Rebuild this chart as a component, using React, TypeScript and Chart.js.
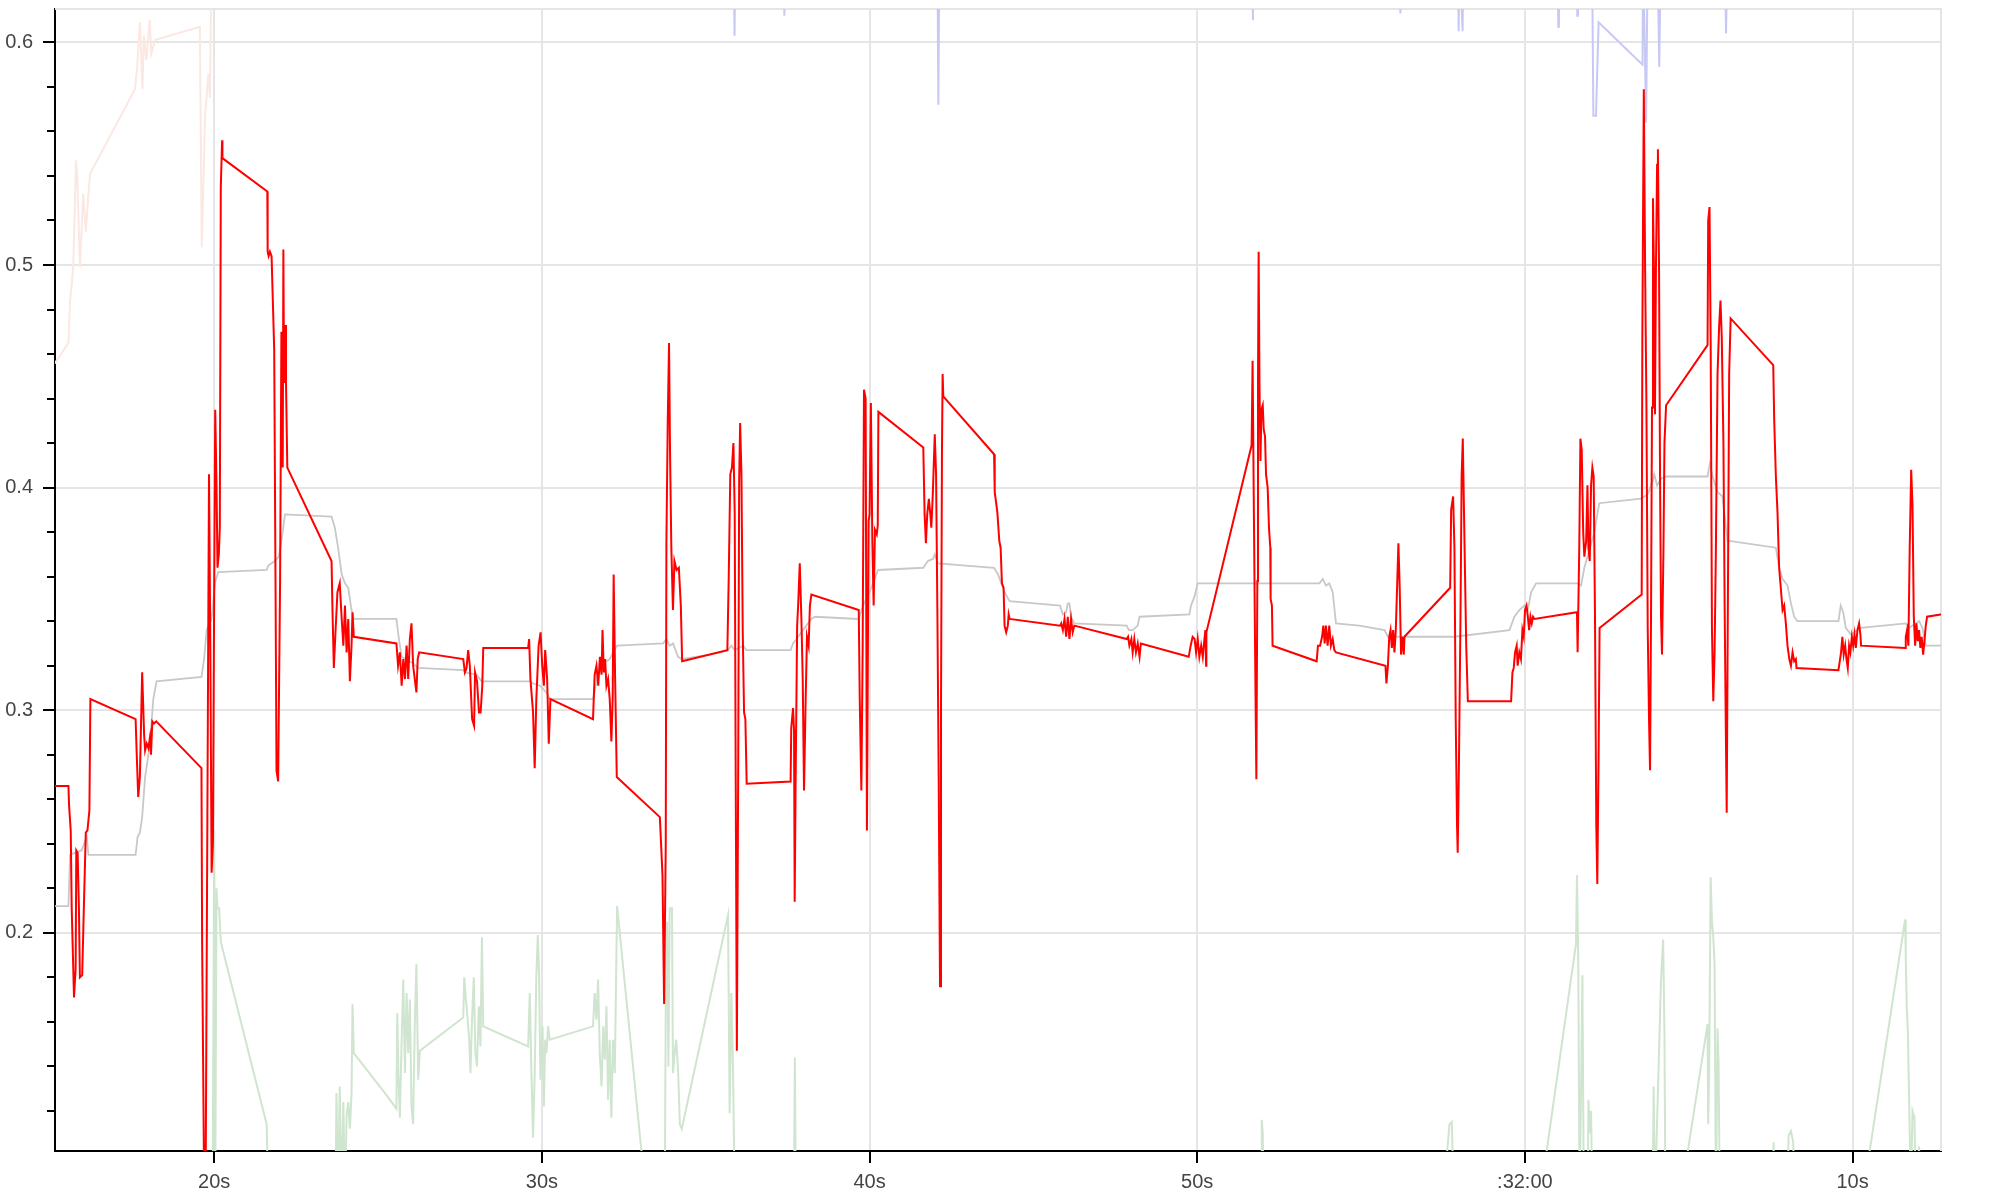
import React, { useEffect, useRef } from 'react';
import { Chart, registerables } from 'chart.js';

Chart.register(...registerables);

// x values are seconds after 10:31:00 (minute offset kept in baseMinute)
const baseMinute = 31;
const xMin = 15.14;
const xMax = 72.7;
const yMin = 0.102;
const yMax = 0.615;
const xTickValues = [20, 30, 40, 50, 60, 70];
const xTickLabels = ['20s', '30s', '40s', '50s', ':' + (baseMinute + 1) + ':00', '10s'];
const yTickValues = [0.2, 0.3, 0.4, 0.5, 0.6];
const yTickLabels = ['0.2', '0.3', '0.4', '0.5', '0.6'];

// [seconds, value]
const red: [number, number][] = [
  [15.0, 0.266], [15.55, 0.266], [15.57, 0.257], [15.62, 0.246], [15.65, 0.211], [15.72, 0.171], [15.77, 0.184], [15.79, 0.237], [15.83, 0.236], [15.87, 0.211], [15.9, 0.18], [15.97, 0.181], [16.02, 0.211], [16.08, 0.245], [16.13, 0.246], [16.19, 0.255], [16.22, 0.305],
  [17.6, 0.296], [17.63, 0.282], [17.68, 0.261], [17.73, 0.27], [17.8, 0.317], [17.86, 0.289], [17.89, 0.282], [17.94, 0.285], [17.99, 0.283], [18.04, 0.288], [18.07, 0.28], [18.11, 0.295], [18.16, 0.294], [18.23, 0.295],
  [19.61, 0.274], [19.63, 0.196], [19.69, 0.09], [19.74, 0.095], [19.79, 0.25], [19.84, 0.406], [19.88, 0.329], [19.92, 0.227], [19.96, 0.24], [20.0, 0.358], [20.03, 0.435], [20.07, 0.4], [20.1, 0.364], [20.14, 0.37], [20.17, 0.382], [20.2, 0.535], [20.24, 0.556], [20.25, 0.548],
  [21.62, 0.533], [21.63, 0.506], [21.66, 0.504], [21.7, 0.506], [21.75, 0.504], [21.83, 0.462], [21.87, 0.358], [21.9, 0.273], [21.95, 0.268], [22.01, 0.358], [22.05, 0.47], [22.09, 0.409], [22.11, 0.507], [22.13, 0.447], [22.16, 0.473], [22.19, 0.447], [22.23, 0.409],
  [23.58, 0.367], [23.61, 0.344], [23.65, 0.319], [23.7, 0.335], [23.76, 0.353], [23.83, 0.357], [23.89, 0.341], [23.94, 0.329], [23.99, 0.347], [24.04, 0.326], [24.09, 0.341], [24.14, 0.313], [24.19, 0.329], [24.22, 0.344], [24.26, 0.333],
  [25.56, 0.33], [25.61, 0.32], [25.665, 0.326], [25.72, 0.311], [25.77, 0.323], [25.82, 0.314], [25.87, 0.329], [25.92, 0.314], [25.97, 0.332], [26.02, 0.339], [26.07, 0.32], [26.12, 0.314], [26.17, 0.308], [26.21, 0.323], [26.255, 0.326],
  [27.6, 0.323], [27.65, 0.317], [27.7, 0.319], [27.75, 0.327], [27.8, 0.32], [27.87, 0.296], [27.93, 0.293], [27.96, 0.317], [28.02, 0.313], [28.08, 0.299], [28.13, 0.299], [28.18, 0.311], [28.21, 0.328],
  [29.58, 0.328], [29.61, 0.332], [29.65, 0.314], [29.73, 0.299], [29.78, 0.274], [29.83, 0.305], [29.9, 0.329], [29.96, 0.335], [30.01, 0.32], [30.06, 0.311], [30.1, 0.327], [30.16, 0.314], [30.21, 0.285], [30.26, 0.305],
  [31.56, 0.296], [31.61, 0.316], [31.665, 0.32], [31.72, 0.311], [31.77, 0.324], [31.82, 0.316], [31.85, 0.336], [31.89, 0.317], [31.93, 0.323], [31.97, 0.311], [32.02, 0.314], [32.07, 0.305], [32.12, 0.286], [32.16, 0.305], [32.19, 0.361], [32.235, 0.314], [32.285, 0.27],
  [33.6, 0.252], [33.68, 0.226], [33.73, 0.168], [33.78, 0.24], [33.8, 0.376], [33.84, 0.429], [33.88, 0.465], [33.91, 0.417], [33.95, 0.373], [34.0, 0.345], [34.045, 0.367], [34.11, 0.363], [34.18, 0.364], [34.24, 0.347], [34.28, 0.322],
  [35.66, 0.327], [35.7, 0.358], [35.75, 0.406], [35.8, 0.409], [35.845, 0.42], [35.885, 0.388], [35.915, 0.27], [35.95, 0.147], [35.99, 0.27], [36.02, 0.403], [36.05, 0.429], [36.09, 0.406], [36.13, 0.335], [36.17, 0.299], [36.21, 0.296], [36.25, 0.267],
  [37.59, 0.268], [37.61, 0.292], [37.665, 0.301], [37.695, 0.291], [37.715, 0.214], [37.745, 0.27], [37.79, 0.338], [37.82, 0.347], [37.87, 0.366], [37.92, 0.341], [37.96, 0.314], [38.0, 0.264], [38.05, 0.305], [38.09, 0.333], [38.14, 0.329], [38.18, 0.347], [38.225, 0.352],
  [39.67, 0.345], [39.7, 0.305], [39.75, 0.264], [39.79, 0.329], [39.83, 0.444], [39.88, 0.44], [39.92, 0.246], [39.97, 0.385], [40.0, 0.388], [40.04, 0.438], [40.085, 0.376], [40.125, 0.347], [40.165, 0.381], [40.22, 0.379], [40.25, 0.383], [40.27, 0.434],
  [41.64, 0.418], [41.68, 0.388], [41.72, 0.375], [41.76, 0.388], [41.81, 0.395], [41.855, 0.388], [41.885, 0.382], [41.93, 0.397], [41.99, 0.424], [42.03, 0.406], [42.07, 0.344], [42.11, 0.27], [42.15, 0.176], [42.18, 0.299], [42.21, 0.417], [42.23, 0.451], [42.25, 0.441],
  [43.8, 0.415], [43.82, 0.398], [43.9, 0.389], [43.96, 0.376], [44.0, 0.373], [44.04, 0.357], [44.09, 0.355], [44.12, 0.338], [44.17, 0.335], [44.22, 0.338], [44.245, 0.343], [44.275, 0.341],
  [45.815, 0.338], [45.85, 0.339], [45.9, 0.336], [45.95, 0.341], [46.0, 0.333], [46.05, 0.342], [46.1, 0.332], [46.15, 0.341], [46.2, 0.335], [46.25, 0.338],
  [47.85, 0.332], [47.89, 0.333], [47.93, 0.329], [47.99, 0.332], [48.03, 0.326], [48.08, 0.332], [48.13, 0.326], [48.185, 0.33], [48.24, 0.324], [48.28, 0.33],
  [49.74, 0.324], [49.8, 0.329], [49.86, 0.333], [49.92, 0.332], [49.965, 0.326], [50.015, 0.332], [50.065, 0.324], [50.12, 0.329], [50.17, 0.324], [50.22, 0.332], [50.25, 0.336], [50.27, 0.32], [50.28, 0.335],
  [51.66, 0.419], [51.69, 0.457], [51.73, 0.388], [51.765, 0.329], [51.805, 0.269], [51.835, 0.358], [51.855, 0.447], [51.875, 0.506], [51.9, 0.447], [51.93, 0.412], [51.96, 0.435], [52.0, 0.437], [52.03, 0.426], [52.07, 0.423], [52.1, 0.406], [52.15, 0.4], [52.19, 0.382], [52.23, 0.373], [52.24, 0.35], [52.28, 0.347], [52.3, 0.329],
  [53.645, 0.322], [53.685, 0.329], [53.75, 0.329], [53.81, 0.333], [53.85, 0.338], [53.89, 0.33], [53.93, 0.338], [53.98, 0.329], [54.03, 0.338], [54.08, 0.329], [54.135, 0.332], [54.185, 0.327], [54.235, 0.326],
  [55.745, 0.32], [55.775, 0.312], [55.82, 0.32], [55.86, 0.333], [55.9, 0.336], [55.94, 0.328], [55.98, 0.336], [56.02, 0.326], [56.06, 0.336], [56.1, 0.355], [56.14, 0.375], [56.18, 0.355], [56.22, 0.325], [56.26, 0.333], [56.305, 0.325], [56.325, 0.333],
  [57.72, 0.355], [57.75, 0.39], [57.81, 0.396], [57.85, 0.373], [57.89, 0.295], [57.93, 0.248], [57.95, 0.236], [57.99, 0.279], [58.035, 0.342], [58.07, 0.405], [58.105, 0.422], [58.16, 0.373], [58.21, 0.329], [58.26, 0.304],
  [59.58, 0.304], [59.62, 0.317], [59.66, 0.319], [59.7, 0.326], [59.75, 0.329], [59.78, 0.32], [59.83, 0.326], [59.88, 0.323], [59.925, 0.336], [59.965, 0.333], [60.005, 0.345], [60.05, 0.347], [60.09, 0.342], [60.13, 0.336], [60.17, 0.342], [60.21, 0.339], [60.25, 0.342], [60.29, 0.341],
  [61.59, 0.344], [61.61, 0.326], [61.66, 0.373], [61.695, 0.422], [61.735, 0.417], [61.78, 0.38], [61.815, 0.369], [61.87, 0.376], [61.91, 0.401], [61.94, 0.373], [61.98, 0.367], [62.02, 0.401], [62.06, 0.409], [62.1, 0.405], [62.14, 0.342], [62.18, 0.248], [62.21, 0.222], [62.25, 0.279], [62.28, 0.337],
  [63.565, 0.352], [63.585, 0.467], [63.63, 0.579], [63.67, 0.498], [63.71, 0.436], [63.75, 0.336], [63.79, 0.295], [63.82, 0.273], [63.85, 0.342], [63.88, 0.436], [63.91, 0.53], [63.94, 0.498], [63.97, 0.433], [64.0, 0.498], [64.035, 0.545], [64.06, 0.552], [64.095, 0.498], [64.125, 0.405], [64.155, 0.342], [64.185, 0.325], [64.23, 0.373], [64.26, 0.42], [64.31, 0.437],
  [65.575, 0.464], [65.595, 0.52], [65.635, 0.526], [65.67, 0.467], [65.71, 0.336], [65.75, 0.304], [65.79, 0.326], [65.83, 0.373], [65.88, 0.451], [65.93, 0.473], [65.97, 0.484], [66.01, 0.467], [66.06, 0.42], [66.1, 0.342], [66.13, 0.295], [66.16, 0.254], [66.205, 0.373], [66.235, 0.451], [66.28, 0.476],
  [67.58, 0.455], [67.61, 0.43], [67.66, 0.405], [67.71, 0.389], [67.76, 0.364], [67.81, 0.355], [67.865, 0.345], [67.915, 0.347], [67.965, 0.339], [68.015, 0.329], [68.07, 0.323], [68.12, 0.32], [68.17, 0.326], [68.22, 0.322], [68.27, 0.323], [68.29, 0.319],
  [69.57, 0.318], [69.61, 0.322], [69.65, 0.326], [69.69, 0.333], [69.73, 0.325], [69.775, 0.329], [69.815, 0.323], [69.855, 0.319], [69.895, 0.329], [69.935, 0.326], [69.98, 0.333], [70.02, 0.329], [70.06, 0.334], [70.1, 0.328], [70.15, 0.336], [70.2, 0.339], [70.24, 0.334], [70.26, 0.329],
  [71.605, 0.328], [71.625, 0.333], [71.665, 0.336], [71.705, 0.329], [71.745, 0.373], [71.79, 0.408], [71.83, 0.392], [71.87, 0.342], [71.91, 0.329], [71.95, 0.339], [71.99, 0.331], [72.03, 0.336], [72.07, 0.328], [72.11, 0.333], [72.155, 0.325], [72.195, 0.331], [72.235, 0.338], [72.275, 0.342], [72.69, 0.343], [72.9, 0.343],
];

const gray: [number, number][] = [
  [15.0, 0.212], [15.55, 0.212], [15.6, 0.235], [15.75, 0.236], [15.95, 0.237], [16.11, 0.243], [16.16, 0.235], [17.6, 0.235], [17.66, 0.243], [17.73, 0.245], [17.8, 0.252], [17.89, 0.27], [18.04, 0.285], [18.14, 0.305], [18.24, 0.313],
  [19.61, 0.315], [19.69, 0.323], [19.77, 0.336], [19.92, 0.341], [20.02, 0.357], [20.12, 0.362], [21.6, 0.363], [21.65, 0.365], [21.85, 0.367], [21.97, 0.369], [22.05, 0.376], [22.16, 0.388],
  [23.58, 0.387], [23.68, 0.382], [23.78, 0.373], [23.89, 0.361], [23.99, 0.357], [24.09, 0.355], [24.19, 0.345], [24.26, 0.341],
  [25.56, 0.341], [25.635, 0.332], [25.72, 0.324], [26.07, 0.321], [26.225, 0.319], [27.6, 0.318], [27.65, 0.317], [28.005, 0.316], [28.16, 0.313],
  [29.63, 0.313], [29.73, 0.312], [29.94, 0.311], [30.14, 0.308], [30.24, 0.305], [31.56, 0.305], [31.77, 0.32], [32.07, 0.323], [32.17, 0.326], [32.295, 0.329],
  [33.7, 0.33], [33.8, 0.332], [33.9, 0.329], [34.0, 0.33], [34.155, 0.324], [34.26, 0.323], [35.12, 0.325], [35.68, 0.327], [35.78, 0.329], [35.885, 0.327], [36.14, 0.329], [36.24, 0.327],
  [37.59, 0.327], [37.665, 0.33], [37.77, 0.332], [37.97, 0.336], [38.07, 0.338], [38.225, 0.341], [38.33, 0.342], [39.67, 0.341], [39.8, 0.347], [40.0, 0.353], [40.105, 0.357], [40.26, 0.363],
  [41.64, 0.364], [41.78, 0.367], [41.94, 0.368], [41.99, 0.37], [42.09, 0.366], [43.8, 0.364], [43.92, 0.361], [44.02, 0.357], [44.12, 0.353], [44.275, 0.349], [45.04, 0.348],
  [45.815, 0.347], [45.9, 0.343], [46.0, 0.344], [46.05, 0.348], [46.1, 0.348], [46.15, 0.342], [46.25, 0.339], [47.85, 0.338], [47.91, 0.336], [48.03, 0.336], [48.185, 0.338], [48.24, 0.342],
  [49.76, 0.343], [49.81, 0.347], [49.915, 0.351], [50.015, 0.357], [52.15, 0.357], [53.73, 0.357], [53.83, 0.359], [53.93, 0.356], [54.03, 0.357], [54.135, 0.353], [54.235, 0.339], [54.95, 0.338],
  [55.715, 0.336], [55.82, 0.333], [57.85, 0.333], [59.53, 0.336], [59.68, 0.342], [59.83, 0.345], [59.985, 0.347], [60.09, 0.345], [60.19, 0.353], [60.34, 0.357],
  [61.61, 0.357], [61.715, 0.356], [61.815, 0.364], [61.97, 0.372], [62.12, 0.38], [62.27, 0.393], [63.545, 0.395], [63.75, 0.397], [63.9, 0.403], [63.95, 0.406], [64.035, 0.401], [64.155, 0.404], [64.31, 0.405],
  [65.575, 0.405], [65.65, 0.411], [65.73, 0.405], [65.88, 0.398], [66.03, 0.396], [66.185, 0.376], [66.285, 0.376], [67.66, 0.373], [67.76, 0.364], [67.865, 0.359], [68.015, 0.356], [68.12, 0.348], [68.22, 0.342], [68.32, 0.34],
  [69.57, 0.34], [69.64, 0.347], [69.715, 0.344], [69.795, 0.337], [69.95, 0.334], [70.25, 0.337], [71.625, 0.339], [71.73, 0.337], [71.93, 0.339], [72.03, 0.34], [72.135, 0.337], [72.235, 0.329], [72.69, 0.329], [72.9, 0.329],
];

const green: [number, number][] = [
  [15.0, 0.08], [19.95, 0.08], [20.0, 0.246], [20.03, 0.08], [20.07, 0.22], [20.1, 0.211], [20.15, 0.211], [20.2, 0.196], [21.6, 0.114], [21.65, 0.08],
  [23.7, 0.08], [23.73, 0.128], [23.78, 0.08], [23.83, 0.131], [23.89, 0.08], [23.94, 0.124], [23.99, 0.08], [24.04, 0.118], [24.09, 0.124], [24.14, 0.112], [24.19, 0.128], [24.22, 0.168], [24.26, 0.146], [25.21, 0.128],
  [25.56, 0.121], [25.585, 0.164], [25.625, 0.134], [25.665, 0.117], [25.72, 0.152], [25.77, 0.179], [25.82, 0.137], [25.87, 0.173], [25.92, 0.146], [25.97, 0.17], [26.02, 0.122], [26.07, 0.114], [26.12, 0.158], [26.17, 0.186], [26.225, 0.134], [26.275, 0.147],
  [27.6, 0.162], [27.63, 0.18], [27.68, 0.17], [27.72, 0.164], [27.78, 0.152], [27.82, 0.137], [27.86, 0.158], [27.92, 0.18], [27.97, 0.146], [28.02, 0.14], [28.075, 0.167], [28.125, 0.149], [28.17, 0.198], [28.21, 0.158],
  [29.58, 0.149], [29.63, 0.173], [29.68, 0.137], [29.73, 0.108], [29.78, 0.137], [29.83, 0.181], [29.875, 0.199], [29.915, 0.181], [29.955, 0.134], [30.02, 0.158], [30.06, 0.122], [30.1, 0.152], [30.14, 0.146], [30.19, 0.158], [30.24, 0.152],
  [31.56, 0.158], [31.61, 0.173], [31.665, 0.161], [31.715, 0.179], [31.765, 0.146], [31.82, 0.131], [31.87, 0.158], [31.92, 0.143], [31.97, 0.167], [32.02, 0.125], [32.07, 0.152], [32.12, 0.117], [32.17, 0.152], [32.225, 0.137], [32.295, 0.212], [33.2, 0.078],
  [33.75, 0.08], [33.78, 0.17], [33.82, 0.205], [33.86, 0.14], [33.9, 0.211], [33.97, 0.211], [34.0, 0.137], [34.05, 0.146], [34.1, 0.152], [34.16, 0.137], [34.21, 0.114], [34.27, 0.112], [35.68, 0.208], [35.73, 0.119], [35.78, 0.173], [35.835, 0.137], [35.885, 0.08],
  [37.69, 0.08], [37.72, 0.144], [37.75, 0.08],
  [51.95, 0.08], [51.97, 0.116], [52.0, 0.11], [52.03, 0.08],
  [57.5, 0.08], [57.7, 0.114], [57.77, 0.115], [57.83, 0.08],
  [60.55, 0.09], [61.56, 0.195], [61.59, 0.226], [61.63, 0.186], [61.67, 0.08], [61.715, 0.129], [61.755, 0.181], [61.8, 0.08], [61.92, 0.08], [61.94, 0.125], [61.98, 0.11], [62.02, 0.12], [62.06, 0.08],
  [63.9, 0.08], [63.93, 0.131], [63.97, 0.08], [64.155, 0.179], [64.22, 0.197], [64.26, 0.155], [64.29, 0.08],
  [64.9, 0.095], [65.575, 0.159], [65.595, 0.114], [65.625, 0.139], [65.67, 0.225], [65.71, 0.205], [65.75, 0.198], [65.79, 0.186], [65.83, 0.08], [65.88, 0.157], [65.91, 0.142], [65.95, 0.08],
  [67.57, 0.08], [67.59, 0.106], [67.61, 0.08], [68.0, 0.08], [68.05, 0.109], [68.12, 0.111], [68.19, 0.106], [68.23, 0.08],
  [70.45, 0.095], [71.605, 0.206], [71.625, 0.189], [71.655, 0.167], [71.69, 0.155], [71.73, 0.123], [71.78, 0.08], [71.83, 0.12], [71.89, 0.117], [71.93, 0.08], [72.03, 0.104], [72.08, 0.08], [72.9, 0.08],
];

const blue: [number, number][] = [
  [15.0, 0.64], [35.85, 0.64], [35.88, 0.603], [35.9, 0.64], [37.38, 0.64], [37.4, 0.612], [37.42, 0.64], [42.07, 0.64], [42.1, 0.572], [42.13, 0.64],
  [51.68, 0.64], [51.7, 0.61], [51.72, 0.64], [56.18, 0.64], [56.2, 0.613], [56.22, 0.64], [57.95, 0.64], [57.98, 0.605], [58.0, 0.64], [58.1, 0.605], [58.12, 0.64],
  [61.0, 0.64], [61.02, 0.607], [61.04, 0.64], [61.58, 0.64], [61.6, 0.612], [61.62, 0.64], [62.05, 0.64], [62.09, 0.567], [62.17, 0.567], [62.25, 0.609], [63.59, 0.59], [63.61, 0.64],
  [63.7, 0.564], [63.75, 0.64], [64.05, 0.64], [64.1, 0.589], [64.15, 0.64], [66.1, 0.64], [66.14, 0.604], [66.18, 0.64], [72.9, 0.64],
];

const pink: [number, number][] = [
  [15.0, 0.456], [15.14, 0.456], [15.55, 0.465], [15.6, 0.484], [15.65, 0.491], [15.7, 0.5], [15.78, 0.547], [15.82, 0.54], [15.9, 0.499], [16.0, 0.532], [16.08, 0.515], [16.15, 0.53], [16.21, 0.541],
  [17.58, 0.579], [17.65, 0.589], [17.73, 0.609], [17.81, 0.579], [17.85, 0.603], [17.93, 0.592], [18.03, 0.61], [18.08, 0.595], [18.19, 0.601], [19.56, 0.607], [19.62, 0.508], [19.72, 0.567], [19.82, 0.586], [19.87, 0.575], [19.92, 0.64], [20.5, 0.66],
];

const toXY = (pts: [number, number][]) => pts.map(([x, y]) => ({ x, y }));
const isMajor = (v: number) => Math.abs(v * 10 - Math.round(v * 10)) < 1e-6;

export default function App() {
  const ref = useRef<HTMLCanvasElement>(null);

  useEffect(() => {
    const canvas = ref.current;
    if (!canvas) return;

    const framePlugin = {
      id: 'frame',
      beforeDatasetsDraw(chart: any) {
        const { ctx, chartArea: a } = chart;
        ctx.save();
        ctx.strokeStyle = '#e5e5e5';
        ctx.lineWidth = 2;
        ctx.beginPath();
        ctx.moveTo(a.left, a.top);
        ctx.lineTo(a.right, a.top);
        ctx.lineTo(a.right, a.bottom);
        ctx.stroke();
        ctx.restore();
      },
      afterDraw(chart: any) {
        const y = chart.scales.y;
        const ctx = chart.ctx;
        ctx.save();
        ctx.strokeStyle = '#000';
        ctx.lineWidth = 2;
        y.ticks.forEach((t: any) => {
          if (!isMajor(t.value)) {
            const py = Math.round(y.getPixelForValue(t.value));
            ctx.beginPath();
            ctx.moveTo(y.right - 8, py);
            ctx.lineTo(y.right, py);
            ctx.stroke();
          }
        });
        ctx.restore();
      },
    };

    const font = { family: '"Liberation Sans", Arial, Helvetica, sans-serif', size: 20 };

    const chart = new Chart(canvas, {
      type: 'line',
      data: {
        datasets: [
          { data: toXY(red), borderColor: '#ff0000', borderWidth: 2, order: 0 },
          { data: toXY(gray), borderColor: '#c8c8c8', borderWidth: 1.8, order: 1 },
          { data: toXY(green), borderColor: '#cfe5cf', borderWidth: 2, order: 2 },
          { data: toXY(blue), borderColor: '#c8c8f5', borderWidth: 2, order: 3 },
          { data: toXY(pink), borderColor: '#fbe8e2', borderWidth: 2, order: 4 },
        ].map((d) => ({ ...d, pointRadius: 0, tension: 0, fill: false, clip: 0 })) as any,
      },
      options: {
        animation: false,
        responsive: false,
        devicePixelRatio: 1,
        layout: { padding: { top: 9, right: 59, left: 0, bottom: 0 } },
        plugins: { legend: { display: false }, tooltip: { enabled: false } },
        scales: {
          x: {
            type: 'linear',
            min: xMin,
            max: xMax,
            afterFit: (s: any) => { s.height = 49; s.paddingLeft = 0; s.paddingRight = 0; },
            afterBuildTicks: (s: any) => { s.ticks = xTickValues.map((v) => ({ value: v })); },
            ticks: {
              includeBounds: false,
              autoSkip: false,
              maxRotation: 0,
              padding: 7,
              color: '#444',
              font,
              callback: (v: any) => {
                const i = xTickValues.indexOf(Math.round(Number(v)));
                return i >= 0 ? xTickLabels[i] : '';
              },
            },
            grid: { color: '#e5e5e5', lineWidth: 2, tickColor: '#000', tickLength: 12, tickWidth: 2 },
            border: { display: true, color: '#000', width: 2 },
          },
          y: {
            type: 'linear',
            min: yMin,
            max: yMax,
            afterFit: (s: any) => { s.width = 55; s.paddingTop = 0; s.paddingBottom = 0; },
            ticks: {
              stepSize: 0.02,
              includeBounds: false,
              autoSkip: false,
              padding: 10,
              color: '#444',
              font,
              callback: (v: any) => {
                const n = Number(v);
                const i = yTickValues.findIndex((t) => Math.abs(t - n) < 1e-6);
                return i >= 0 ? yTickLabels[i] : '';
              },
            },
            grid: {
              color: (c: any) => (c.tick && isMajor(c.tick.value) ? '#e5e5e5' : 'rgba(0,0,0,0)'),
              tickColor: (c: any) => (c.tick && isMajor(c.tick.value) ? '#000' : 'rgba(0,0,0,0)'),
              lineWidth: 2,
              tickLength: 12,
              tickWidth: 2,
            },
            border: { display: true, color: '#000', width: 2 },
          },
        },
      },
      plugins: [framePlugin],
    });

    return () => chart.destroy();
  }, []);

  return (
    <div style={{ position: 'absolute', left: 0, top: 0, width: 2000, height: 1200, background: '#fff' }}>
      <canvas ref={ref} width={2000} height={1200} style={{ width: 2000, height: 1200, display: 'block' }} />
    </div>
  );
}
